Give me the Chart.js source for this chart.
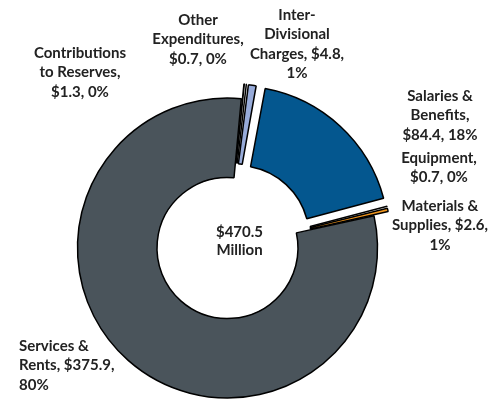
<!DOCTYPE html>
<html>
<head>
<meta charset="utf-8">
<script src="https://cdn.jsdelivr.net/npm/chart.js@4.4.1/dist/chart.umd.min.js"></script>
<style>
  html, body { margin: 0; padding: 0; background: #fff; }
  #wrap { width: 504px; height: 411px; position: relative; }
</style>
</head>
<body>
<div id="wrap"><canvas id="chartCanvas" width="504" height="411"></canvas></div>
<script>
// Budget by category, $ millions
const categories = [
  "Salaries & Benefits",
  "Equipment",
  "Materials & Supplies",
  "Services & Rents",
  "Contributions to Reserves",
  "Other Expenditures",
  "Inter-Divisional Charges",
];
const amounts = [84.4, 0.7, 2.6, 375.9, 1.3, 0.7, 4.8];
const percents = [18, 0, 1, 80, 0, 0, 1];
const totalLabel = ["$470.5", "Million"];

// name split over lines; the value line is appended from amounts/percents
const nameLines = [
  ["Salaries &", "Benefits,"],
  ["Equipment,"],
  ["Materials &", "Supplies,"],
  ["Services &", "Rents,"],
  ["Contributions", "to Reserves,"],
  ["Other", "Expenditures,"],
  ["Inter-", "Divisional", "Charges,"],
];
// labels where the amount stays on the last name line and the percent wraps
const valueSplit = [false, false, true, true, false, false, true];

const colors = ["#04578f", "#1c1c1c", "#f0961e", "#4a545b", "#27412c", "#151515", "#97abd9"];
// chart.js draws arcs shifted by offset / 4
const explode = [58, 30, 30, 0, 30, 30, 30];

// label block placement: x, first line y, text alignment
const labelAnchors = [
  [440, 96, "center"],
  [439, 158, "center"],
  [440, 206, "center"],
  [19, 346, "left"],
  [80, 53, "center"],
  [198, 20, "center"],
  [297, 15, "center"],
];

const lineHeight = 19.5;
const fontSpec = "bold 15px Lato, 'DejaVu Sans', sans-serif";

function buildLines(i) {
  const names = nameLines[i].slice();
  const money = "$" + amounts[i].toFixed(1);
  const pct = percents[i] + "%";
  if (valueSplit[i]) {
    names[names.length - 1] += " " + money + ",";
    names.push(pct);
  } else {
    names.push(money + ", " + pct);
  }
  return names;
}

const labelPlugin = {
  id: "sliceLabels",
  afterDatasetsDraw(chart) {
    const ctx = chart.ctx;
    ctx.save();
    ctx.font = fontSpec;
    ctx.fillStyle = "#222";
    ctx.textBaseline = "middle";
    categories.forEach((c, i) => {
      const [x, y, align] = labelAnchors[i];
      ctx.textAlign = align;
      buildLines(i).forEach((t, j) => ctx.fillText(t, x, y + j * lineHeight));
    });
    // total in the hole
    const arc = chart.getDatasetMeta(0).data[3];
    ctx.textAlign = "center";
    ctx.fillText(totalLabel[0], arc.x + 12, arc.y - 16);
    ctx.fillText(totalLabel[1], arc.x + 12, arc.y + 2);
    ctx.restore();
  },
};

const ctx = document.getElementById("chartCanvas").getContext("2d");
const myChart = new Chart(ctx, {
  type: "doughnut",
  data: {
    labels: categories,
    datasets: [
      {
        data: amounts,
        backgroundColor: colors,
        borderColor: "#000",
        borderWidth: 1.5,
        offset: explode,
        hoverOffset: 0,
      },
    ],
  },
  options: {
    responsive: false,
    animation: false,
    rotation: 10.5,
    cutout: "47%",
    radius: 150,
    layout: { padding: { left: 0, right: 49, top: 85, bottom: 0 } },
    plugins: {
      legend: { display: false },
      tooltip: { enabled: false },
    },
  },
  plugins: [labelPlugin],
});
</script>
</body>
</html>
